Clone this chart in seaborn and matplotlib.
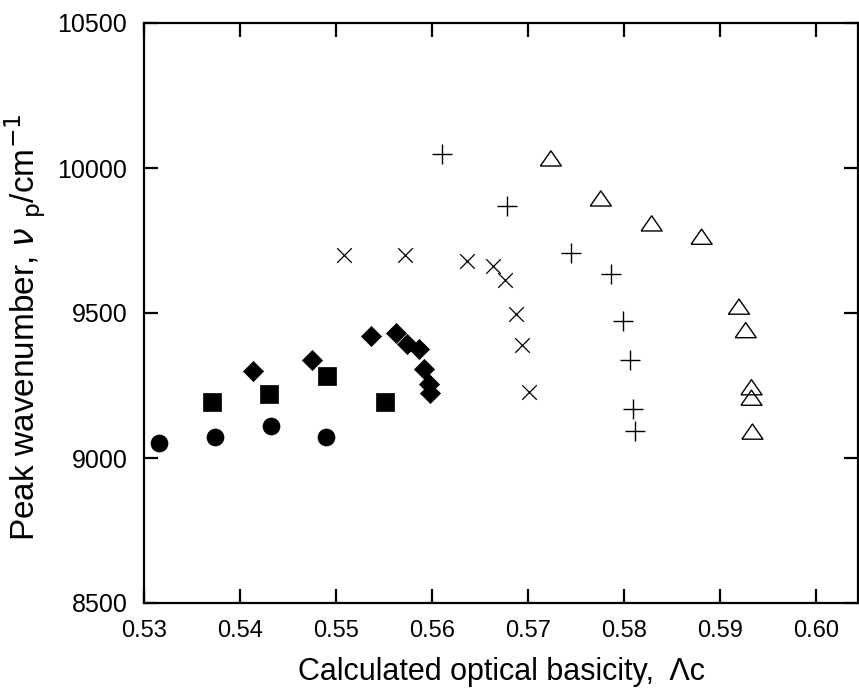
import matplotlib
matplotlib.use("Agg")
import matplotlib.pyplot as plt
import seaborn as sns
import pandas as pd
import numpy as np

# ---- data ----
circ_x = [0.5316, 0.5374, 0.5432, 0.5490]
circ_y = [9053, 9071, 9110, 9071]

sq_x = [0.5371, 0.5430, 0.5491, 0.5551]
sq_y = [9192, 9220, 9284, 9192]

dia_x = [0.5414, 0.5475, 0.5537, 0.5563, 0.5574, 0.5587, 0.5592, 0.5597, 0.5598]
dia_y = [9299, 9338, 9421, 9430, 9392, 9377, 9306, 9255, 9225]

cross_x = [0.5508, 0.5572, 0.5637, 0.5664, 0.5676, 0.5688, 0.5694, 0.5701]
cross_y = [9699, 9699, 9680, 9663, 9615, 9497, 9391, 9228]

plus_x = [0.5611, 0.5678, 0.5745, 0.5787, 0.5799, 0.5806, 0.5810, 0.5812]
plus_y = [10048, 9869, 9708, 9634, 9471, 9338, 9168, 9094]

tri_x = [0.5724, 0.5776, 0.5829, 0.5881, 0.5920, 0.5927, 0.5933, 0.5933, 0.5934]
tri_y = [10033, 9895, 9809, 9763, 9522, 9441, 9244, 9208, 9091]

xticks = [0.53, 0.54, 0.55, 0.56, 0.57, 0.58, 0.59, 0.60]
xticklabels = ["0.53", "0.54", "0.55", "0.56", "0.57", "0.58", "0.59", "0.60"]
yticks = [8500, 9000, 9500, 10000, 10500]
yticklabels = ["8500", "9000", "9500", "10000", "10500"]

sns.set_style("ticks")
plt.rcParams["font.family"] = ["Liberation Sans", "DejaVu Sans"]
plt.rcParams["text.color"] = "black"
plt.rcParams["axes.labelcolor"] = "black"

fig = plt.figure(figsize=(8.59, 6.91), dpi=100)
ax = fig.add_axes([144 / 859, 1 - 603 / 691, (858 - 144) / 859, (603 - 23) / 691])

tri_marker = [(-1, -0.72), (1, -0.72), (0, 0.72), (-1, -0.72)]

series = [
    (circ_x, circ_y, "o", 150, "black", "black", 0.5),
    (sq_x, sq_y, "s", 150, "black", "black", 0.5),
    (dia_x, dia_y, "D", 105, "black", "black", 0.5),
    (cross_x, cross_y, "x", 110, "black", "black", 0.9),
    (plus_x, plus_y, "+", 190, "black", "black", 1.0),
    (tri_x, tri_y, tri_marker, 230, "none", "black", 1.0),
]
for xs, ys, mk, s, fc, ec, lw in series:
    df = pd.DataFrame({"x": xs, "y": ys})
    if mk in ("x", "+"):
        sns.scatterplot(data=df, x="x", y="y", marker=mk, s=s, color=ec,
                        linewidth=lw, ax=ax, zorder=3)
    else:
        sns.scatterplot(data=df, x="x", y="y", marker=mk, s=s, facecolor=fc,
                        edgecolor=ec, linewidth=lw, ax=ax, zorder=3)

ax.set_xlim(0.53, 0.6044)
ax.set_ylim(8500, 10500)
ax.set_xticks(xticks)
ax.set_xticklabels(xticklabels, fontsize=17)
ax.set_yticks(yticks)
ax.set_yticklabels(yticklabels, fontsize=18)
ax.tick_params(direction="in", length=10, width=1.6, top=True, right=True,
               colors="black")
ax.tick_params(axis="y", pad=12)
ax.tick_params(axis="x", pad=12)
for sp in ax.spines.values():
    sp.set_linewidth(1.6)
    sp.set_color("black")

ax.set_xlabel("Calculated optical basicity,  \u039bc", fontsize=22, labelpad=11,
              color="black")
ax.set_ylabel(r"Peak wavenumber, $\nu$ $_{\rm p}$/cm$^{-1}$", fontsize=24,
              color="black")
ax.yaxis.set_label_coords(-0.135, 0.475)

fig.savefig("out.png", dpi=100)
